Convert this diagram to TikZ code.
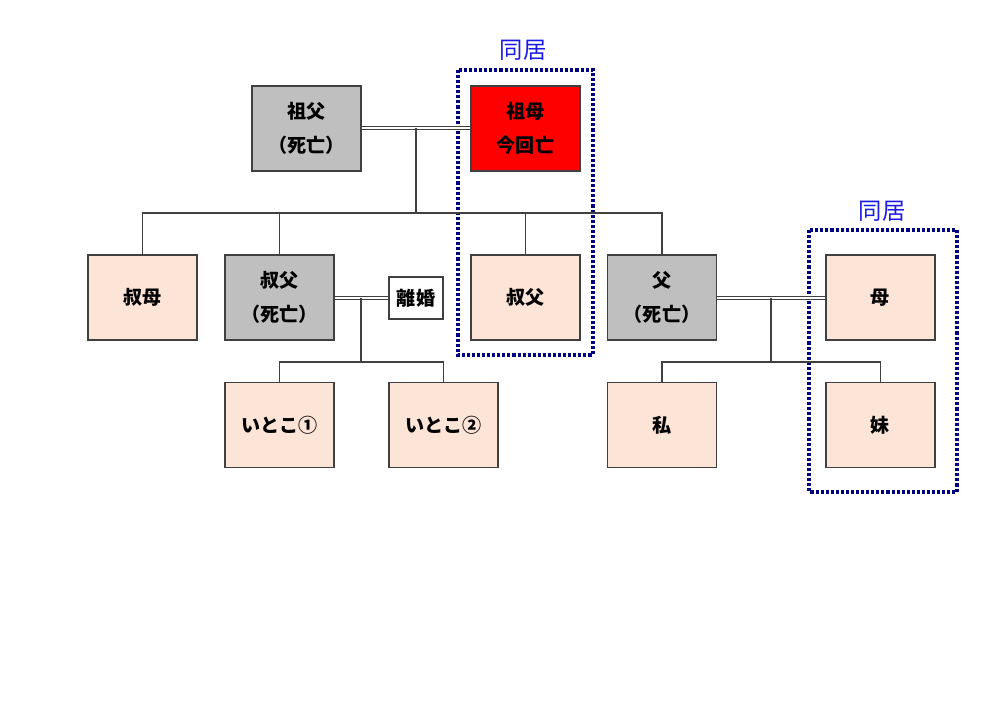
\documentclass[tikz,border=0pt]{standalone}
\usepackage{fontspec}
\setmainfont{Noto Sans CJK JP}
\usetikzlibrary{calc}
\definecolor{pinkf}{HTML}{FCE4D6}
\definecolor{grayf}{HTML}{BFBFBF}
\definecolor{redf}{HTML}{FF0000}
\definecolor{edge}{HTML}{404040}
\definecolor{navy}{HTML}{000080}
\definecolor{lblue}{HTML}{1A1AE6}
\tikzset{
  person/.style={draw=edge, line width=1.1pt, minimum width=81.75pt, minimum height=63.75pt,
    inner sep=0pt, align=center, font=\bfseries\fontsize{14.3}{25.5}\selectfont},
  pink/.style={person, fill=pinkf},
  dead/.style={person, fill=grayf},
  deadnow/.style={person, fill=redf},
  conn/.style={draw=edge, line width=1pt},
  marr/.style={draw=edge, line width=0.8pt, double=white, double distance=1.6pt},
  cohab/.style={draw=navy, line width=3pt, dash pattern=on 2.3pt off 1.5pt},
  cohablbl/.style={text=lblue, font=\fontsize{17.5}{19}\selectfont, inner sep=0pt},
  divorce/.style={draw=edge, line width=1.1pt, fill=white, minimum width=40.5pt, minimum height=31.5pt,
    inner sep=0pt, font=\bfseries\fontsize{14.3}{16}\selectfont}
}
\begin{document}
\begin{tikzpicture}[x=0.75pt, y=-0.75pt]
\useasboundingbox (0,0) rectangle (999,706);
% cohabitation boxes
\draw[cohab] (458,70) rectangle (593,355);
\node[cohablbl] (lbl1) at (523,50) {同居};
\draw[cohab] (809,230) rectangle (957,492);
\node[cohablbl] (lbl2) at (882,211) {同居};
% row 1
\node[dead] (sofu) at (306.5,128.5) {祖父\\（死亡）};
\node[deadnow] (sobo) at (525.5,128.5) {祖母\\今回亡};
% row 2
\node[pink] (oba) at (142.5,297.5) {叔母};
\node[dead] (oji1) at (279.5,297.5) {叔父\\（死亡）};
\node[divorce] (rikon) at (416,298) {離婚};
\node[pink] (oji2) at (525.5,297.5) {叔父};
\node[dead] (chichi) at (662,297.5) {父\\（死亡）};
\node[pink] (haha) at (880.5,297.5) {母};
% row 3
\node[pink] (itoko1) at (279.5,425) {いとこ①};
\node[pink] (itoko2) at (443.5,425) {いとこ②};
\node[pink] (watashi) at (662,425) {私};
\node[pink] (imouto) at (880.5,425) {妹};
% grandparents
\draw[marr] (sofu.east |- 0,128) -- (sobo.west |- 0,128);
\coordinate (m1) at (416,128);
\draw[conn] (m1) -- (416,213);
\draw[conn] (oba.north) -- (oba.north |- 0,213) -| (chichi.north);
\draw[conn] (oji1.north) -- (oji1.north |- 0,213);
\draw[conn] (oji2.north) -- (oji2.north |- 0,213);
% uncle divorce
\draw[marr] (oji1.east |- 0,298) -- (rikon.west |- 0,298);
\coordinate (m2) at (361,298);
\draw[conn] (m2) -- (361,362);
\draw[conn] (itoko1.north) -- (itoko1.north |- 0,362) -| (itoko2.north);
% parents
\draw[marr] (chichi.east |- 0,298) -- (haha.west |- 0,298);
\coordinate (m3) at (771,298);
\draw[conn] (m3) -- (771,362);
\draw[conn] (watashi.north) -- (watashi.north |- 0,362) -| (imouto.north);
\end{tikzpicture}
\end{document}
